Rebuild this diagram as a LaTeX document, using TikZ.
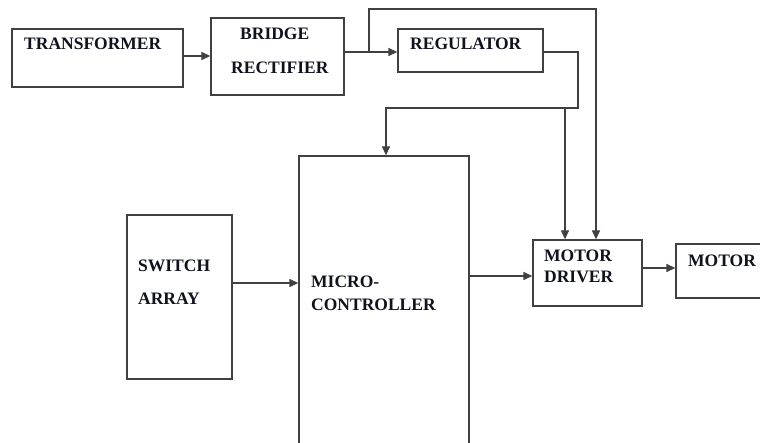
\documentclass[tikz,border=0pt]{standalone}
\usepackage{fontspec}
\setmainfont{Liberation Serif}
\usetikzlibrary{arrows.meta}
\definecolor{boxgray}{HTML}{404040}
\definecolor{txt}{HTML}{10121E}
\begin{document}
\begin{tikzpicture}[x=1pt,y=-1pt,
  box/.style={draw=boxgray, line width=1.3pt, rectangle, inner sep=0pt},
  lbl/.style={anchor=base west, inner sep=0pt, text=txt, font=\fontsize{17.5}{20}\selectfont\bfseries},
  wire/.style={draw=boxgray, line width=1.3pt},
  arr/.style={wire, -{Triangle[length=9pt,width=8pt]}}]
\path[use as bounding box] (0,0) rectangle (760,443);
\clip (0,0) rectangle (760,443);
\fill[white] (0,0) rectangle (760,443);
% boxes
\node[box, minimum width=171pt, minimum height=58pt] (tr) at (97.5,58) {};
\node[box, minimum width=133pt, minimum height=77pt] (br) at (277.5,56.5) {};
\node[box, minimum width=145pt, minimum height=43pt] (rg) at (470.5,50.5) {};
\node[box, minimum width=105pt, minimum height=164pt] (sw) at (179.5,297) {};
\node[box, minimum width=170pt, minimum height=314pt] (mc) at (384,313) {};
\node[box, minimum width=109pt, minimum height=66pt] (md) at (587.5,273) {};
\node[box, minimum width=114pt, minimum height=54pt] (mt) at (733,271) {};
% labels
\node[lbl] (ttr) at (24,50) {TRANSFORMER};
\node[lbl] (tbr1) at (240,40) {BRIDGE};
\node[lbl] (tbr2) at (231,74) {RECTIFIER};
\node[lbl] (trg) at (410,50) {REGULATOR};
\node[lbl] (tsw1) at (138,272) {SWITCH};
\node[lbl] (tsw2) at (138,305) {ARRAY};
\node[lbl] (tmc1) at (311,288) {MICRO-};
\node[lbl] (tmc2) at (311,311) {CONTROLLER};
\node[lbl] (tmd1) at (544,262) {MOTOR};
\node[lbl] (tmd2) at (544,283) {DRIVER};
\node[lbl] (tmt) at (688,267) {MOTOR};
% connectors
\coordinate (j1) at (369,52);
\coordinate (j2) at (565,108);
\draw[arr] (tr.east |- 0,56) -- (br.west |- 0,56);
\draw[arr] (br.east |- 0,52) -- (rg.west |- 0,52);
\draw[arr] (j1) -- (369,9) -- (596,9) -- (md.north -| 596,0);
\draw[arr] (rg.east |- 0,52) -- (578,52) -- (578,108) -- (386,108) -- (mc.north -| 386,0);
\draw[arr] (j2) -- (md.north -| 565,0);
\draw[arr] (sw.east |- 0,283) -- (mc.west |- 0,283);
\draw[arr] (mc.east |- 0,276) -- (md.west |- 0,276);
\draw[arr] (md.east |- 0,268) -- (mt.west |- 0,268);
\end{tikzpicture}
\end{document}
